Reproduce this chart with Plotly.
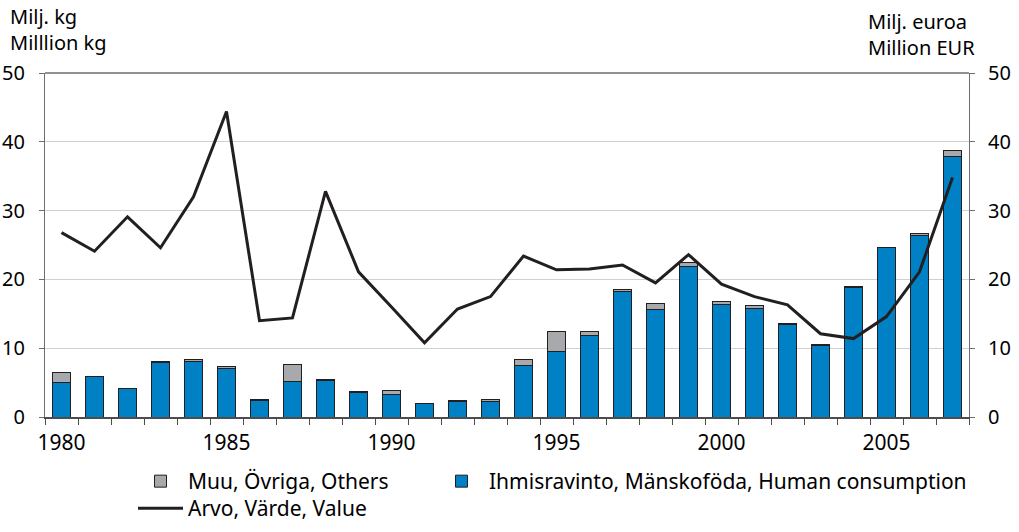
import plotly.graph_objects as go

years = list(range(1980, 2008))
human = [5.0, 5.9, 4.1, 7.9, 8.1, 7.0, 2.4, 5.2, 5.3, 3.6, 3.3, 1.9, 2.3, 2.3,
         7.5, 9.5, 11.9, 18.3, 15.6, 21.9, 16.3, 15.75, 13.5, 10.4, 18.8, 24.6, 26.4, 37.8]
others = [1.4, 0.0, 0.0, 0.1, 0.2, 0.3, 0.15, 2.45, 0.2, 0.1, 0.6, 0.1, 0.1, 0.3,
          0.9, 2.9, 0.6, 0.2, 0.9, 0.5, 0.5, 0.45, 0.1, 0.1, 0.1, 0.1, 0.3, 1.0]
value = [26.8, 24.1, 29.1, 24.6, 32.0, 44.4, 14.0, 14.4, 32.8, 21.1, 16.0, 10.8, 15.7, 17.5,
         23.4, 21.4, 21.5, 22.1, 19.5, 23.6, 19.3, 17.5, 16.3, 12.1, 11.4, 14.6, 21.1, 34.8]
year_ticks = [1980, 1985, 1990, 1995, 2000, 2005]
y_ticks = [0, 10, 20, 30, 40, 50]

FONT = "Noto Sans"
DARK = "#231f20"
BLUE = "#0081c6"
GREY = "#a7a9ac"
AXIS = "#6d6e71"

W, H = 1019, 532
L, T = 45, 73
R = W - 969
B = H - 417
PW, PH = W - L - R, H - T - B


def px_x(x):  # page px -> paper
    return (x - L) / PW


def px_y(y):  # page px -> paper
    return (H - B - y) / PH


fig = go.Figure()
fig.add_trace(go.Bar(
    x=years, y=human, name="Ihmisravinto, Mänskoföda, Human consumption",
    marker=dict(color=BLUE, line=dict(color=DARK, width=1)), width=0.56,
    legend="legend2",
))
fig.add_trace(go.Bar(
    x=years, y=others, name="Muu, Övriga, Others",
    marker=dict(color=GREY, line=dict(color=DARK, width=1)), width=0.56,
    legend="legend",
))
fig.add_trace(go.Scatter(
    x=years, y=value, name="Arvo, Värde, Value", mode="lines",
    line=dict(color=DARK, width=3), yaxis="y2", legend="legend3",
))

leg_common = dict(
    orientation="v", xanchor="left", yanchor="top", traceorder="normal",
    font=dict(family=FONT, size=21, color="black"), itemwidth=45,
    bgcolor="rgba(0,0,0,0)", tracegroupgap=0,
)

fig.update_layout(
    width=W, height=H,
    margin=dict(l=L, r=R, t=T, b=B, autoexpand=False),
    barmode="stack",
    plot_bgcolor="white", paper_bgcolor="white",
    font=dict(family=FONT, size=21, color="black"),
    showlegend=True,
    legend=dict(x=px_x(133), y=px_y(461), **leg_common),
    legend2=dict(x=px_x(434), y=px_y(461), **leg_common),
    legend3=dict(x=px_x(133), y=px_y(488), **leg_common),
    xaxis=dict(
        range=[1979.5, 2007.5], tickmode="array", tickvals=year_ticks,
        ticks="outside", ticklen=0, tickcolor=DARK,
        showline=True, linecolor="#4d4d4f", linewidth=1.5, mirror=False,
        showgrid=False, zeroline=False, automargin=False,
        tickfont=dict(family=FONT, size=21),
        ticklabelstandoff=6,
        minor=dict(tick0=1979.5, dtick=1, ticks="outside", ticklen=6,
                   tickcolor="#4d4d4f", showgrid=False),
    ),
    yaxis=dict(
        range=[0, 50], tickmode="array", tickvals=y_ticks,
        ticks="outside", ticklen=5, tickcolor=AXIS,
        showline=True, linecolor=AXIS, linewidth=1,
        showgrid=True, gridcolor="#cfd0d2", gridwidth=1,
        zeroline=False, automargin=False, tickfont=dict(family=FONT, size=20),
        ticklabelstandoff=10,
    ),
    yaxis2=dict(
        range=[0, 50], tickmode="array", tickvals=y_ticks, overlaying="y", side="right",
        ticks="outside", ticklen=5, tickcolor=AXIS,
        showline=True, linecolor=AXIS, linewidth=1,
        showgrid=False, zeroline=False, automargin=False, tickfont=dict(family=FONT, size=20),
        ticklabelstandoff=9,
    ),
    shapes=[dict(type="line", xref="paper", yref="paper", x0=0, x1=1, y0=1, y1=1,
                 line=dict(color=AXIS, width=1.5))],
    annotations=[
        dict(text="Milj. kg<br>Milllion kg", xref="paper", yref="paper",
             x=px_x(8), y=px_y(29), xanchor="left", yanchor="middle", align="left",
             showarrow=False, font=dict(family=FONT, size=20, color="black")),
        dict(text="Milj. euroa<br>Million EUR", xref="paper", yref="paper",
             x=px_x(866), y=px_y(34), xanchor="left", yanchor="middle", align="left",
             showarrow=False, font=dict(family=FONT, size=20, color="black")),
    ],
)

fig.write_html(
    "out.html",
    config={"displayModeBar": False},
    post_script="document.body.style.margin='0';document.body.style.overflow='hidden';",
)
